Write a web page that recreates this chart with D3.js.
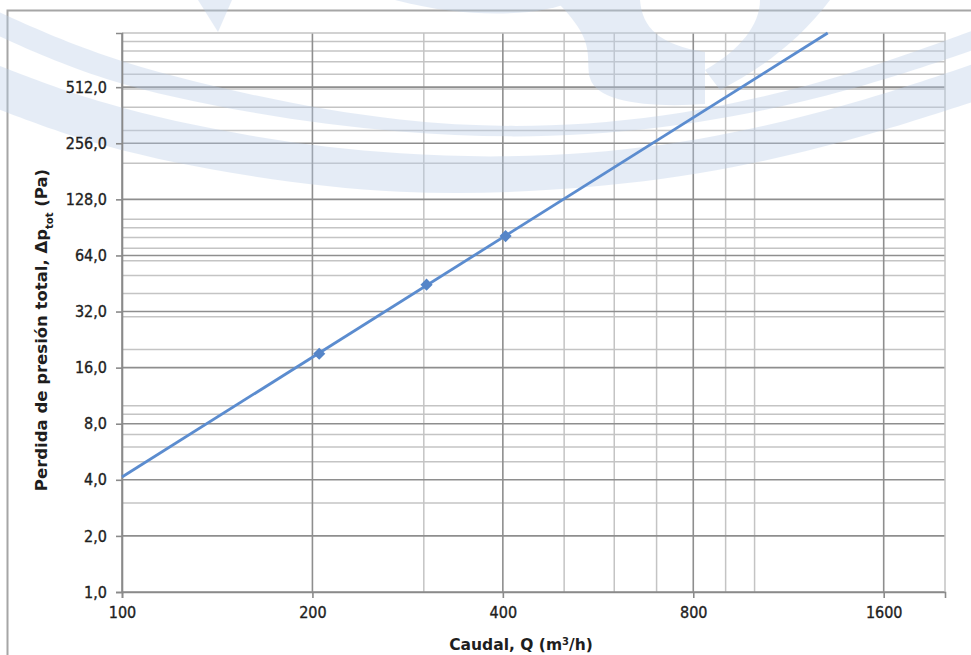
<!DOCTYPE html>
<html>
<head>
<meta charset="utf-8" />
<title>Perdida de presión total</title>
<script src="https://cdn.jsdelivr.net/npm/d3@7"></script>
<style>
  body { margin: 0; background: #fff; }
  svg text { font-family: "DejaVu Sans Condensed", "DejaVu Sans", sans-serif; font-stretch: condensed; fill: #1e1e1e; }
</style>
</head>
<body>
<div id="chart"></div>
<script>
// caudal Q (m3/h) vs perdida de presion (Pa), log2-log2 axes
var xMajor = [100, 200, 400, 800, 1600];
var xMinor = [300, 500, 600, 700, 900, 1000];
var yMajor = [1, 2, 4, 8, 16, 32, 64, 128, 256, 512];
var yMinor = [3, 5, 6, 7, 9, 10, 20, 30, 40, 50, 60, 70, 80, 90, 100, 200, 300, 400, 500, 600, 700, 800, 900];

// measured points
var pointQ = [205, 303, 404];
var pointDp = [19.0, 44.6, 81.3];
// fitted line (ends)
var lineQ = [100, 1305];
var lineDp = [4.14, 1000];

var W = 971, H = 655;
var pL = 122, pR = 945, pT = 33, pB = 592;

var svg = d3.select("#chart").append("svg")
    .attr("width", W).attr("height", H);

var x = d3.scaleLog().domain([100, 2000]).range([pL, pR]);
var y = d3.scaleLog().domain([1, 1000]).range([pB, pT]);

// outer frame
svg.append("rect")
    .attr("x", 7.5).attr("y", 10.5)
    .attr("width", W + 10).attr("height", H + 10)
    .attr("fill", "#fff").attr("stroke", "#a6a6a6").attr("stroke-width", 2);

var g = svg.append("g");

// minor grid
g.selectAll(".vmin").data(xMinor).enter().append("line")
    .attr("x1", function(d) { return x(d); }).attr("x2", function(d) { return x(d); })
    .attr("y1", pT).attr("y2", pB)
    .attr("stroke", "#c4c4c4").attr("stroke-width", 1.5);
g.selectAll(".hmin").data(yMinor).enter().append("line")
    .attr("y1", function(d) { return y(d); }).attr("y2", function(d) { return y(d); })
    .attr("x1", pL).attr("x2", pR)
    .attr("stroke", "#c4c4c4").attr("stroke-width", 1.5);

// major grid
g.selectAll(".vmaj").data(xMajor).enter().append("line")
    .attr("x1", function(d) { return x(d); }).attr("x2", function(d) { return x(d); })
    .attr("y1", pT).attr("y2", pB)
    .attr("stroke", "#8e8e8e").attr("stroke-width", 1.6);
g.selectAll(".hmaj").data(yMajor).enter().append("line")
    .attr("y1", function(d) { return y(d); }).attr("y2", function(d) { return y(d); })
    .attr("x1", pL).attr("x2", pR)
    .attr("stroke", "#8e8e8e").attr("stroke-width", 1.6);

// plot border top/right
g.append("path")
    .attr("d", "M" + pL + "," + pT + "H" + pR + "V" + pB)
    .attr("fill", "none").attr("stroke", "#c4c4c4").attr("stroke-width", 1.5);

// watermark swooshes (background logo)
var wm = svg.append("g").attr("fill", "#b9cde8").attr("opacity", 0.36);
var band = d3.area().curve(d3.curveBasis)
    .x(function(d) { return d[0]; }).y0(function(d) { return d[1]; }).y1(function(d) { return d[2]; });
wm.append("path").attr("d", band([[-10,8,32],[100,58,82],[250,96,114],[400,123,134],[550,129,139],[700,113,125],[850,76,92],[985,26,46]]));
wm.append("path").attr("d", band([[-10,62,106],[100,105,148],[250,138,178],[400,156,195],[550,158,192],[700,142,176],[850,106,142],[985,60,98]]));
wm.append("path").attr("d", "M555,0 L640,0 C642,28 660,45 705,52 L705,104 C650,108 596,102 590,78 C585,56 598,42 555,0 Z");
wm.append("path").attr("d", "M395,0 L575,0 C545,16 470,20 395,0 Z");
wm.append("path").attr("d", "M198,0 L232,0 L218,32 Z");
wm.append("path").attr("d", "M760,0 L830,0 C800,40 760,70 720,90 L705,70 C740,50 760,25 760,0 Z");

// axes
var xAxis = d3.axisBottom(x).tickValues(xMajor).tickSize(6).tickPadding(9)
    .tickFormat(function(d) { return d; });
var yAxis = d3.axisLeft(y).tickValues(yMajor).tickSize(6).tickPadding(9)
    .tickFormat(function(d) { return d3.format(".1f")(d).replace(".", ","); });

var gx = svg.append("g").attr("transform", "translate(0," + pB + ")").call(xAxis);
var gy = svg.append("g").attr("transform", "translate(" + pL + ",0)").call(yAxis);
[gx, gy].forEach(function(a) {
    a.select(".domain").attr("stroke", "#8a8a8a").attr("stroke-width", 1.6);
    a.selectAll(".tick line").attr("stroke", "#8a8a8a").attr("stroke-width", 1.6);
    a.selectAll(".tick text").attr("font-size", 16).attr("fill", "#1e1e1e")
        .attr("stroke", "#1e1e1e").attr("stroke-width", 0.35)
        .style("font-family", "'DejaVu Sans Condensed', 'DejaVu Sans', sans-serif");
});

// fitted line
var line = d3.line().x(function(d) { return x(d[0]); }).y(function(d) { return y(d[1]); });
svg.append("path")
    .datum(d3.zip(lineQ, lineDp))
    .attr("d", line)
    .attr("fill", "none").attr("stroke", "#5b8ccf").attr("stroke-width", 2.8);

// markers (square turned 45 degrees)
svg.selectAll(".pt").data(d3.zip(pointQ, pointDp)).enter().append("path")
    .attr("d", d3.symbol().type(d3.symbolSquare).size(74))
    .attr("transform", function(d) { return "translate(" + x(d[0]) + "," + y(d[1]) + ") rotate(45)"; })
    .attr("fill", "#5585c8");

// axis titles
svg.append("text")
    .attr("x", 521).attr("y", 650)
    .attr("text-anchor", "middle").attr("font-size", 15.5).attr("font-weight", "bold")
    .style("font-family", "'DejaVu Sans', sans-serif").style("font-stretch", "normal")
    .html("Caudal, Q (m<tspan baseline-shift='super' font-size='10'>3</tspan>/h)");

svg.append("text")
    .attr("transform", "translate(47,330) rotate(-90)")
    .attr("text-anchor", "middle").attr("font-size", 16.5).attr("font-weight", "bold")
    .style("font-family", "'DejaVu Sans', sans-serif").style("font-stretch", "normal")
    .html("Perdida de presión total, Δp<tspan baseline-shift='sub' font-size='10'>tot</tspan> (Pa)");
</script>
</body>
</html>
